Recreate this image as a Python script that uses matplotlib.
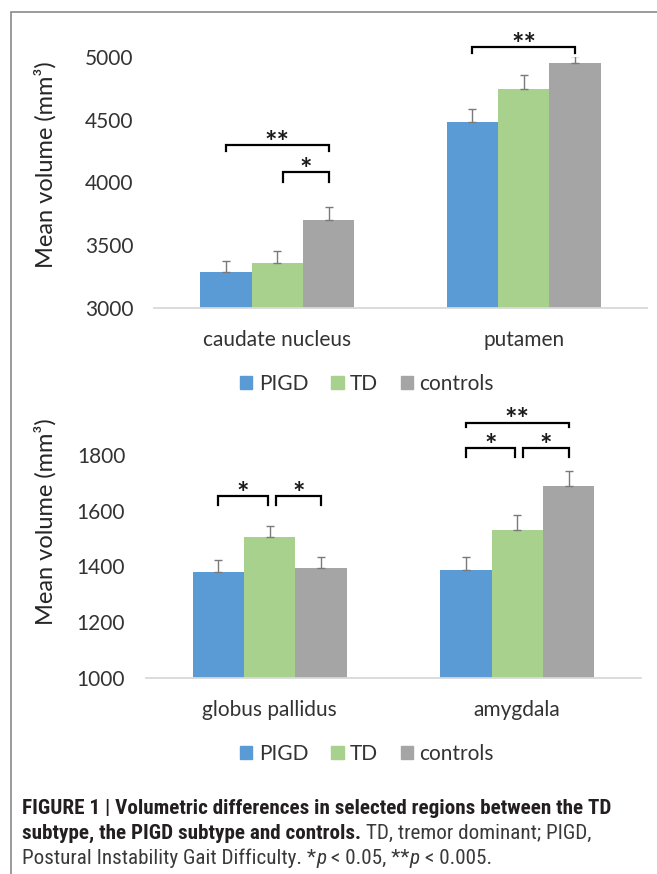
import numpy as np
import matplotlib.pyplot as plt
from matplotlib import font_manager
from matplotlib.patches import Patch, Rectangle

# groupes et couleurs
groups = ["PIGD", "TD", "controls"]
colors = ["#5B9BD5", "#A9D18E", "#A5A5A5"]

# panneau du haut
regions_top = ["caudate nucleus", "putamen"]
pigd_top = [3283, 4480]
td_top = [3360, 4747]
ctrl_top = [3704, 4952]
pigd_top_err = [88, 107]
td_top_err = [98, 112]
ctrl_top_err = [104, 56]
yticks_top = [3000, 3500, 4000, 4500, 5000]

# panneau du bas
regions_bot = ["globus pallidus", "amygdala"]
pigd_bot = [1382, 1386]
td_bot = [1505, 1531]
ctrl_bot = [1393, 1689]
pigd_bot_err = [42, 49]
td_bot_err = [41, 52]
ctrl_bot_err = [42, 55]
yticks_bot = [1000, 1200, 1400, 1600, 1800]

# crochets de significativite : (region, barre i, barre j, haut, bas des pattes, label)
sig_top = [(0, 0, 2, 4298, 4250, "**"),
           (0, 1, 2, 4083, 4003, "*"),
           (1, 0, 2, 5077, 5032, "**")]
sig_bot = [(0, 0, 1, 1653, 1621, "*"),
           (0, 1, 2, 1653, 1621, "*"),
           (1, 0, 1, 1825, 1793, "*"),
           (1, 1, 2, 1825, 1793, "*"),
           (1, 0, 2, 1915, 1900, "**")]

caption_1 = "FIGURE 1 | Volumetric differences in selected regions between the TD"
caption_2b = "subtype, the PIGD subtype and controls."
caption_2r = " TD, tremor dominant; PIGD,"

W, H = 657, 874
plt.rcParams['font.family'] = ['Lato', 'DejaVu Sans']

# police etroite pour la legende de figure si disponible
cap_font = dict(family='Liberation Sans')
for f in font_manager.fontManager.ttflist:
    if f.name in ('Liberation Sans Narrow', 'Roboto Condensed'):
        cap_font = dict(family=f.name)
        break
    if f.name == 'DejaVu Sans' and f.stretch == 'condensed':
        cap_font = dict(family='DejaVu Sans', stretch='condensed')

fig = plt.figure(figsize=(W / 100, H / 100), dpi=100)
renderer = fig.canvas.get_renderer()

bw = 0.208
tick_color = '#333333'


def panel(rect, regions, series, errors, yticks, sigs, ylab_y):
    ax = fig.add_axes(rect)
    x = np.arange(len(regions))
    for k in range(3):
        xs = x + (k - 1) * bw
        ax.bar(xs, series[k], bw, color=colors[k], label=groups[k], zorder=2)
        ax.errorbar(xs, series[k], yerr=[np.zeros(len(x)), errors[k]], fmt='none',
                    ecolor='#7a7a7a', elinewidth=1.0, capsize=2.8, capthick=1.0, zorder=3)
    ax.set_xlim(-0.5, 1.5)
    ax.set_ylim(yticks[0], yticks[-1])
    ax.set_yticks(yticks)
    ax.set_xticks(x)
    ax.set_xticklabels(regions)
    for s in ['top', 'right', 'left']:
        ax.spines[s].set_visible(False)
    ax.spines['bottom'].set_color('#D9D9D9')
    ax.spines['bottom'].set_linewidth(1.3)
    ax.tick_params(axis='both', length=0, labelsize=15, colors=tick_color)
    ax.tick_params(axis='y', pad=15)
    ax.tick_params(axis='x', pad=16)

    for reg, i, j, ytop, ybot, lab in sigs:
        x0 = reg + (i - 1) * bw
        x1 = reg + (j - 1) * bw
        if i == 1:
            x0 += 0.025
        if j == 1:
            x1 -= 0.008
        ax.plot([x0, x0, x1, x1], [ybot, ytop, ytop, ybot], color='black',
                lw=1.6, clip_on=False, solid_joinstyle='miter')
        ax.annotate(lab, ((x0 + x1) / 2, ytop), xytext=(0, -4), textcoords='offset points',
                    ha='center', va='baseline', fontsize=21, fontweight='bold',
                    color='#1a1a1a', annotation_clip=False)

    fig.text(45 / W, 1 - ylab_y / H, "Mean volume (mm³)", rotation=90,
             ha='center', va='center', fontsize=17, color='#262626')
    return ax


ax1 = panel([154 / W, 1 - 308 / H, 493 / W, 251 / H], regions_top,
            [pigd_top, td_top, ctrl_top], [pigd_top_err, td_top_err, ctrl_top_err],
            yticks_top, sig_top, 165)
ax2 = panel([146 / W, 1 - 678 / H, 495 / W, 223 / H], regions_bot,
            [pigd_bot, td_bot, ctrl_bot], [pigd_bot_err, td_bot_err, ctrl_bot_err],
            yticks_bot, sig_bot, 522)

handles = [Patch(color=c, label=g) for c, g in zip(colors, groups)]
for ly in [384, 754]:
    fig.legend(handles=handles, loc='center', bbox_to_anchor=(367 / W, 1 - ly / H),
               ncol=3, frameon=False, fontsize=15, handlelength=0.6, handleheight=0.6,
               handletextpad=0.3, columnspacing=1.1, labelcolor=tick_color)

# cadre gris
fig.patches.append(Rectangle((11 / W, -0.1), 1.1, 0.1 + 1 - 12 / H, transform=fig.transFigure,
                             fill=False, ec='#8a8a8a', lw=1.2))


# legende de la figure
def text_width(s, **kw):
    t = fig.text(0, 0, s + "|", **kw)
    t2 = fig.text(0, 0, "|", **kw)
    w = t.get_window_extent(renderer).width - t2.get_window_extent(renderer).width
    t.remove()
    t2.remove()
    return w


def write_line(x_px, y_px, runs):
    for s, kw in runs:
        fig.text(x_px / W, 1 - y_px / H, s, va='baseline', **kw)
        x_px += text_width(s, **kw)


# taille ajustee pour que la premiere ligne tienne dans la largeur (max 15.2 pt)
w14 = text_width(caption_1, fontsize=14, fontweight='bold', **cap_font)
cap_size = min(15.2, 14 * 621 / w14)
bold = dict(fontsize=cap_size, fontweight='bold', color='#231f20', **cap_font)
reg = dict(fontsize=cap_size, color='#3a3a3a', **cap_font)
ital = dict(fontsize=cap_size, style='italic', color='#3a3a3a', **cap_font)

write_line(22, 814, [(caption_1, bold)])
write_line(22, 839, [(caption_2b, bold), (caption_2r, reg)])
write_line(22, 864, [("Postural Instability Gait Difficulty. *", reg), ("p", ital),
                     (" < 0.05, **", reg), ("p", ital), (" < 0.005.", reg)])

fig.savefig("out.png", dpi=100)
